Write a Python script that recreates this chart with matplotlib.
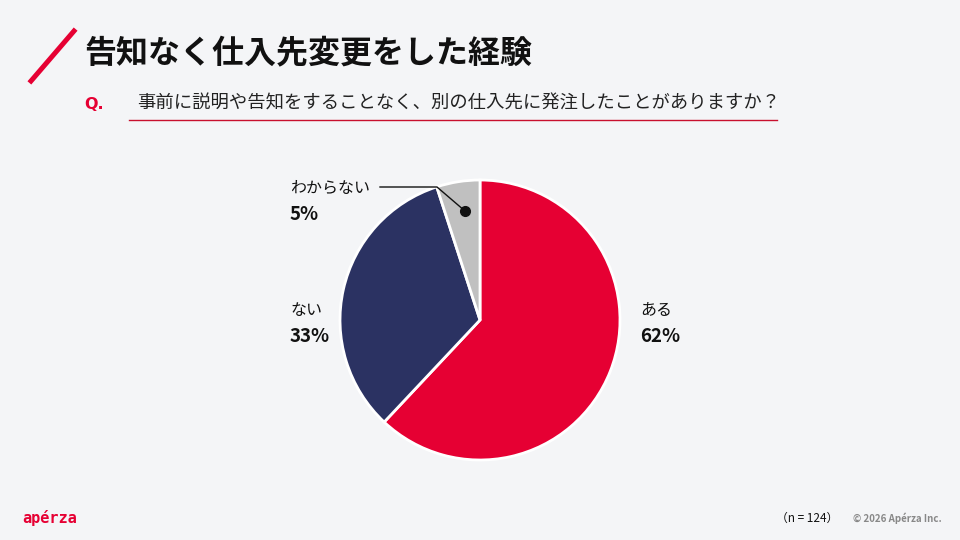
import matplotlib
matplotlib.use("Agg")
import matplotlib.pyplot as plt
from matplotlib.lines import Line2D

plt.rcParams['font.family'] = ['Noto Sans CJK JP', 'DejaVu Sans']

# Data
labels = ['ある', 'ない', 'わからない']
values = [62, 33, 5]
colors = ['#e60033', '#2b3262', '#c0c0c0']

title = '告知なく仕入先変更をした経験'
question = '事前に説明や告知をすることなく、別の仕入先に発注したことがありますか？'
n_note = '（n = 124）'

W, H = 960, 540
fig = plt.figure(figsize=(9.6, 5.4), dpi=100)
fig.patch.set_facecolor('#f4f5f7')

def fx(x):
    return x / W

def fy(y):
    return 1 - y / H

# Header
fig.add_artist(Line2D([fx(31), fx(74)], [fy(81), fy(31)], color='#e60033', lw=3.6,
                      transform=fig.transFigure))
fig.text(fx(84), fy(54), title, fontsize=23, fontweight='bold', va='center', ha='left',
         color='#111111')
fig.text(fx(84), fy(104), 'Q.', fontsize=11.5, fontweight='bold', va='center', ha='left',
         color='#e60033', family='DejaVu Sans')
fig.text(fx(137), fy(104), question, fontsize=13.2, va='center', ha='left', color='#222222')
fig.add_artist(Line2D([fx(129), fx(777)], [fy(120), fy(120)], color='#c8102e', lw=1.0,
                      transform=fig.transFigure))

# Pie
cx, cy, r = 480, 320, 140
ax = fig.add_axes([fx(cx - r), fy(cy + r), 2 * r / W, 2 * r / H])
ax.pie(values, colors=colors, startangle=90, counterclock=False,
       wedgeprops=dict(edgecolor='white', linewidth=2))
ax.set_aspect('equal')
ax.set_xlim(-1, 1)
ax.set_ylim(-1, 1)
ax.axis('off')

# Labels
label_pos = [(640, 310, 336), (290, 310, 336), (290, 188, 215)]
for lab, val, (x, y1, y2) in zip(labels, values, label_pos):
    fig.text(fx(x), fy(y1), lab, fontsize=11.5, va='center', ha='left', color='#111111')
    fig.text(fx(x), fy(y2), f'{val}%', fontsize=13.5, fontweight='bold', va='center',
             ha='left', color='#111111')

# leader line for small slice
fig.add_artist(Line2D([fx(380), fx(437), fx(465)], [fy(187), fy(187), fy(211)],
                      color='#111111', lw=1.0, transform=fig.transFigure))
fig.add_artist(Line2D([fx(465)], [fy(211)], marker='o', markersize=7, color='#111111',
                      transform=fig.transFigure))

# Footer
fig.text(fx(22), fy(518), 'apérza', fontsize=11, fontweight='bold', va='center', ha='left',
         color='#e60033', family='DejaVu Sans Mono')
fig.text(fx(807), fy(518), n_note, fontsize=8.5, va='center', ha='center', color='#111111')
fig.text(fx(942), fy(518), '© 2026 Apérza Inc.', fontsize=7, fontweight='bold', va='center',
         ha='right', color='#888888')

fig.savefig('out.png', dpi=100, facecolor=fig.get_facecolor())
